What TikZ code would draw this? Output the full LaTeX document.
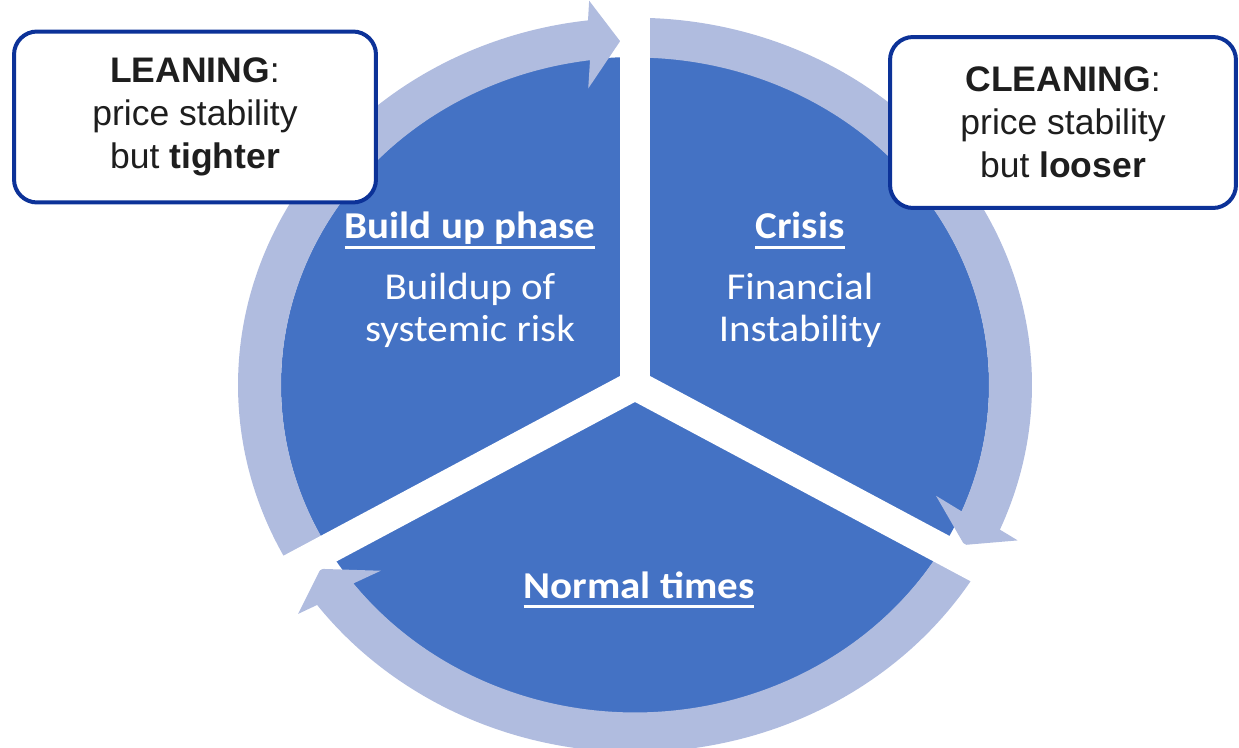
\documentclass[tikz,border=0pt]{standalone}
\usepackage{fontspec}
\setmainfont{Liberation Sans}
\newfontfamily\calibrifont[FakeStretch=1.08]{Carlito}
\usepackage{xcolor}
\usetikzlibrary{positioning}
\definecolor{phaseblue}{RGB}{68,114,196}
\definecolor{ringblue}{RGB}{176,188,223}
\definecolor{boxblue}{RGB}{12,50,152}
\definecolor{boxtext}{RGB}{30,30,30}
% underlined phase title
\newsavebox{\phasebox}
\newcommand{\phaseul}[1]{\sbox{\phasebox}{#1}\rlap{\rule[-5.5pt]{\wd\phasebox}{1.3pt}}\usebox{\phasebox}}

\begin{document}
\begin{tikzpicture}[
    x=0.02cm, y=0.02cm,
    sector/.style={fill=phaseblue},
    ring/.style={fill=ringblue},
    gap/.style={draw=white, line width=0.6cm},
    callout/.style={draw=boxblue, line width=0.08cm, rounded corners=0.46cm, fill=white, text=boxtext, align=center, minimum width=7.24cm, minimum height=3.42cm, inner sep=0pt, font=\fontsize{20.2}{24.4}\selectfont},
    head/.style={text=white, inner sep=0pt, anchor=base, font=\calibrifont\bfseries\fontsize{21.6}{24}\selectfont},
    body/.style={text=white, inner sep=0pt, align=center, font=\calibrifont\fontsize{21.6}{23.9}\selectfont}
]
\useasboundingbox (0,0) rectangle (1239,747);

% Disc of the three phases
\coordinate (centre) at (635,362);
\fill[sector] (centre) ellipse [x radius=354, y radius=328];

\begin{scope}[shift={(centre)}, yscale=0.925]
% Cycle arrows round the disc
\fill[ring] (210:354) arc[start angle=210, end angle=97.3, radius=354] -- (98.3:324) -- (92.3:372) -- (96.3:418) -- (96.8:397) arc[start angle=96.8, end angle=210, radius=397] -- cycle;
\fill[ring] (90:354) arc[start angle=90, end angle=-22.7, radius=354] -- (-21.7:324) -- (-27.7:372) -- (-23.7:418) -- (-23.2:397) arc[start angle=-23.2, end angle=90, radius=397] -- cycle;
\fill[ring] (-30:354) arc[start angle=-30, end angle=-142.7, radius=354] -- (-141.7:324) -- (-147.7:372) -- (-143.7:418) -- (-143.2:397) arc[start angle=-143.2, end angle=-30, radius=397] -- cycle;

% White cuts between the phases
\draw[gap] (0,0) -- (90:440);
\draw[gap] (0,0) -- (210:440);
\draw[gap] (0,0) -- (330:440);
\end{scope}

% Phase labels
\node[head] (buildhead) at (470,508) {\phaseul{Build up phase}};
\node[body, below=0.48cm of buildhead] (buildbody) {Buildup of\\systemic risk};
\node[head] (crisishead) at (800,508) {\phaseul{Crisis}};
\node[body, below=0.48cm of crisishead] (crisisbody) {Financial\\Instability};
\node[head] (normalhead) at (639,149) {\phaseul{Normal times}};

% Policy boxes
\node[callout] (leaning) at (195,630) {\textbf{LEANING}:\\price stability\\but \textbf{tighter}};
\node[callout, minimum width=6.92cm] (cleaning) at (1063,624.5) {\textbf{CLEANING}:\\price stability\\but \textbf{looser}};
\end{tikzpicture}
\end{document}
